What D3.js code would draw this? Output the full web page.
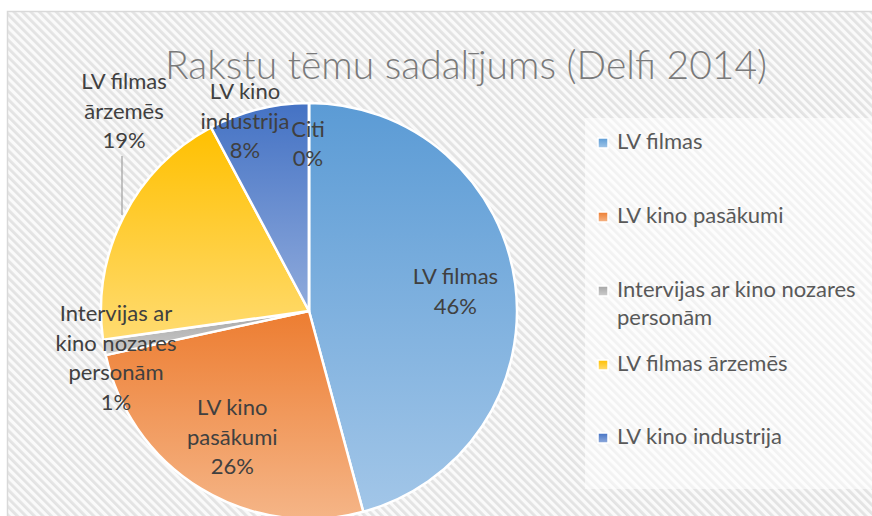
<!DOCTYPE html>
<html>
<head>
<meta charset="utf-8">
<script src="https://cdn.jsdelivr.net/npm/d3@7"></script>
<style>
  body { margin: 0; background: #fff; }
  svg { display: block; }
</style>
</head>
<body>
<svg id="chart" width="872" height="516"></svg>
<script>
var categories = ["LV filmas", "LV kino pasākumi", "Intervijas ar kino nozares personām", "LV filmas ārzemēs", "LV kino industrija", "Citi"];
var values = [45.8, 25.8, 1.2, 19.4, 7.8, 0];
var pieLabelLines = [["LV filmas"], ["LV kino", "pasākumi"], ["Intervijas ar", "kino nozares", "personām"], ["LV filmas", "ārzemēs"], ["LV kino", "industrija"], ["Citi"]];
var legendLines = [["LV filmas"], ["LV kino pasākumi"], ["Intervijas ar kino nozares", "personām"], ["LV filmas ārzemēs"], ["LV kino industrija"]];
var topColors = ["#5b9bd5", "#ed7d31", "#a5a5a5", "#ffc000", "#4472c4", "#70ad47"];
var bottomColors = ["#a2c6e8", "#f5b587", "#cdcdcd", "#ffdb70", "#90abdc", "#b0d59a"];

var svg = d3.select("#chart");
var W = +svg.attr("width"), H = +svg.attr("height");
var font = "Lato, 'Open Sans', sans-serif";

var defs = svg.append("defs");
var pat = defs.append("pattern")
    .attr("id", "stripes")
    .attr("patternUnits", "userSpaceOnUse")
    .attr("width", 6).attr("height", 6)
    .attr("patternTransform", "rotate(-45)");
pat.append("rect").attr("width", 6).attr("height", 6).attr("fill", "#fafafa");
pat.append("rect").attr("width", 2.8).attr("height", 6).attr("fill", "#e3e3e3");

categories.forEach(function(c, i) {
    var g = defs.append("linearGradient")
        .attr("id", "grad" + i)
        .attr("x1", 0).attr("y1", 0).attr("x2", 0).attr("y2", 1);
    g.append("stop").attr("offset", "0%").attr("stop-color", topColors[i]);
    g.append("stop").attr("offset", "100%").attr("stop-color", bottomColors[i]);
});

// chart area
svg.append("rect")
    .attr("x", 7.5).attr("y", 11.5)
    .attr("width", W).attr("height", H)
    .attr("fill", "url(#stripes)")
    .attr("stroke", "#d9d9d9")
    .attr("stroke-width", 1.5);

svg.append("text")
    .attr("x", 466).attr("y", 79)
    .attr("text-anchor", "middle")
    .attr("font-family", font)
    .attr("font-weight", 300)
    .attr("font-size", 39)
    .attr("fill", "#7a7a7a")
    .text("Rakstu tēmu sadalījums (Delfi 2014)");

// pie
var cx = 309, cy = 311, R = 208;
var total = d3.sum(values);
var pct = d3.format(".0%");
var data = categories.map(function(c, i) { return { name: c, value: values[i], i: i }; });

var pie = d3.pie().sort(null).value(function(d) { return d.value; });
var arcs = pie(data);
var arc = d3.arc().innerRadius(0).outerRadius(R);
var labelArc = d3.arc().innerRadius(R * 1.42).outerRadius(0);

var gPie = svg.append("g").attr("transform", "translate(" + cx + "," + cy + ")");
gPie.selectAll("path").data(arcs).enter()
    .append("path")
    .attr("d", arc)
    .attr("fill", function(d) { return "url(#grad" + d.data.i + ")"; })
    .attr("stroke", "#fff")
    .attr("stroke-width", 2.5)
    .attr("stroke-linejoin", "round");

// label anchors: inside labels sit on the centroid, best-fit ones were moved by hand (offset from pie centre)
var movedLabels = { 2: [-193, 47], 3: [-185, -200], 4: [-64, -190], 5: [-1, -167] };
var lineH = 29.5;

arcs.forEach(function(d) {
    var i = d.data.i;
    var p = movedLabels[i] || labelArc.centroid(d);
    var lines = pieLabelLines[i].concat([pct(d.data.value / total)]);
    var y0 = p[1] - (lines.length - 1) * lineH / 2 + 7.5;
    var t = gPie.append("text")
        .attr("text-anchor", "middle")
        .attr("font-family", font)
        .attr("font-size", 22)
        .attr("fill", "#404040");
    lines.forEach(function(l, k) {
        t.append("tspan").attr("x", p[0]).attr("y", y0 + k * lineH).text(l);
    });
    if (i === 3) {
        var lx = p[0] - 2;
        var yEdge = -Math.sqrt(R * R - lx * lx);
        gPie.append("line")
            .attr("x1", lx).attr("x2", lx)
            .attr("y1", y0 + (lines.length - 1) * lineH + 8)
            .attr("y2", yEdge - 5)
            .attr("stroke", "#a6a6a6")
            .attr("stroke-width", 1.3);
    }
});

// legend
svg.append("rect")
    .attr("x", 585).attr("y", 118)
    .attr("width", W - 585).attr("height", 371)
    .attr("fill", "#fff").attr("fill-opacity", 0.55);

var legendY = [149, 223, 297, 371, 444];
var leg = svg.append("g").selectAll("g").data(legendLines).enter()
    .append("g")
    .attr("transform", function(d, i) { return "translate(598," + legendY[i] + ")"; });
leg.append("rect")
    .attr("x", 0).attr("y", -11)
    .attr("width", 10).attr("height", 10)
    .attr("fill", function(d, i) { return "url(#grad" + i + ")"; })
    .attr("stroke", "#fff").attr("stroke-width", 1.5);
leg.append("text")
    .attr("font-family", font)
    .attr("font-size", 22)
    .attr("fill", "#595959")
    .each(function(d) {
        var t = d3.select(this);
        d.forEach(function(l, k) {
            t.append("tspan").attr("x", 19).attr("y", k * 28).text(l);
        });
    });
</script>
</body>
</html>
